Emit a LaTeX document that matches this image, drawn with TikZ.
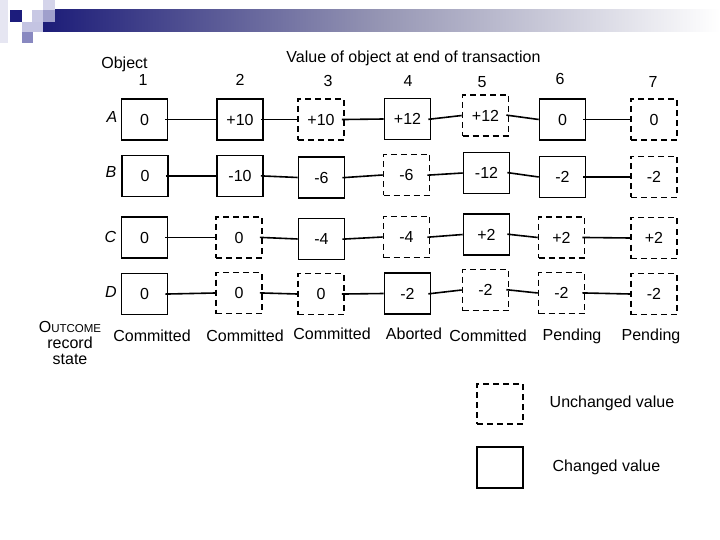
\documentclass[tikz,border=0pt]{standalone}
\usepackage{fontspec}
\setmainfont{Liberation Sans}
\newcommand\lbl{\fontsize{16}{18}\selectfont}
\definecolor{navy}{RGB}{28,28,124}
\definecolor{navybar}{RGB}{28,28,120}
\definecolor{midbar}{RGB}{150,150,180}
\definecolor{pale}{RGB}{230,230,242}
\definecolor{lightA}{RGB}{200,200,228}
\definecolor{lightB}{RGB}{212,212,234}
\definecolor{medA}{RGB}{160,160,204}
\definecolor{lightC}{RGB}{196,196,226}
\definecolor{medB}{RGB}{136,136,192}
\tikzset{
  chg/.style={draw, line width=1.6pt, minimum width=46pt, minimum height=41pt, inner sep=0pt, font=\lbl},
  unc/.style={chg, dash pattern=on 6pt off 4pt},
  conn/.style={line width=1.6pt, shorten <=-3pt},
  txt/.style={font=\lbl, inner sep=0pt},
  rowlbl/.style={font=\lbl\itshape, inner sep=0pt}
}
\begin{document}
\begin{tikzpicture}[x=1pt,y=-1pt]
\useasboundingbox (0,0) rectangle (720,540);
\fill[white] (0,0) rectangle (720,540);
% decoration
\fill[left color=navybar, right color=white, middle color=midbar] (43,10) rectangle (720,32);
\fill[pale] (0,0) rectangle (8,43);
\fill[navy] (10,10) rectangle (22,22);
\fill[lightA] (32,10) rectangle (43,22);
\fill[lightB] (43,0) rectangle (55,10);
\fill[medA] (43,10) rectangle (55,22);
\fill[lightC] (22,22) rectangle (43,32);
\fill[medB] (22,32) rectangle (33,43);

% headers
\node[txt] (hobj) at (124.5,64) {Object};
\node[txt] (hval) at (413.5,58) {Value of object at end of transaction};
\node[txt] (n1) at (143,80) {1};
\node[txt] (n2) at (240,80) {2};
\node[txt] (n3) at (328,81) {3};
\node[txt] (n4) at (408,81) {4};
\node[txt] (n5) at (482,82) {5};
\node[txt] (n6) at (560,79) {6};
\node[txt] (n7) at (653,82) {7};

% row labels
\node[rowlbl] (la) at (112,117) {A};
\node[rowlbl] (lb) at (111,172) {B};
\node[rowlbl] (lc) at (110.5,237) {C};
\node[rowlbl] (ld) at (111,292) {D};

% row A
\node[chg] (a1) at (144.5,119.5) {0};
\node[chg] (a2) at (240,119.5) {+10};
\node[unc] (a3) at (321,119.5) {+10};
\node[chg] (a4) at (407.5,119) {+12};
\node[unc] (a5) at (485.5,115.5) {+12};
\node[chg] (a6) at (562.5,119.5) {0};
\node[unc] (a7) at (654,119.5) {0};
% row B
\node[chg] (b1) at (145,176) {0};
\node[chg] (b2) at (240,176) {-10};
\node[chg] (b3) at (321.5,177.5) {-6};
\node[unc] (b4) at (406.5,175) {-6};
\node[chg] (b5) at (486.5,173) {-12};
\node[chg] (b6) at (562.5,177) {-2};
\node[unc] (b7) at (654,177) {-2};
% row C
\node[chg] (c1) at (144.5,237.5) {0};
\node[unc] (c2) at (239,237.5) {0};
\node[chg] (c3) at (321.5,239) {-4};
\node[unc] (c4) at (406.5,237) {-4};
\node[chg] (c5) at (486.5,234.5) {+2};
\node[unc] (c6) at (561.5,237.5) {+2};
\node[unc] (c7) at (654,238) {+2};
% row D
\node[chg] (d1) at (144.5,294) {0};
\node[unc] (d2) at (239,293) {0};
\node[unc] (d3) at (321,294) {0};
\node[chg] (d4) at (407.5,293.5) {-2};
\node[unc] (d5) at (485.5,290) {-2};
\node[unc] (d6) at (561.5,293) {-2};
\node[unc] (d7) at (654,294) {-2};

\foreach \r in {a,b,c,d}{
  \draw[conn] (\r1.east) -- (\r2.west);
  \draw[conn] (\r2.east) -- (\r3.west);
  \draw[conn] (\r3.east) -- (\r4.west);
  \draw[conn] (\r4.east) -- (\r5.west);
  \draw[conn] (\r5.east) -- (\r6.west);
  \draw[conn] (\r6.east) -- (\r7.west);
}

% outcome
\node[txt] (o1) at (152,336) {Committed};
\node[txt] (o2) at (245,336) {Committed};
\node[txt] (o3) at (332,334) {Committed};
\node[txt] (o4) at (414,334) {Aborted};
\node[txt] (o5) at (488,336) {Committed};
\node[txt] (o6) at (572,336) {Pending};
\node[txt] (o7) at (651,336) {Pending};
\node[txt] (out1) at (70,327) {O{\fontsize{11.5}{13}\selectfont UTCOME}};
\node[txt] (out2) at (70,343) {record};
\node[txt] (out3) at (70,359) {state};

% legend
\node[unc, minimum height=40pt] (lgu) at (500,404) {};
\node[chg] (lgc) at (500,467.5) {};
\node[txt] (tu) at (612,403) {Unchanged value};
\node[txt] (tc) at (606.5,467) {Changed value};
\end{tikzpicture}
\end{document}
